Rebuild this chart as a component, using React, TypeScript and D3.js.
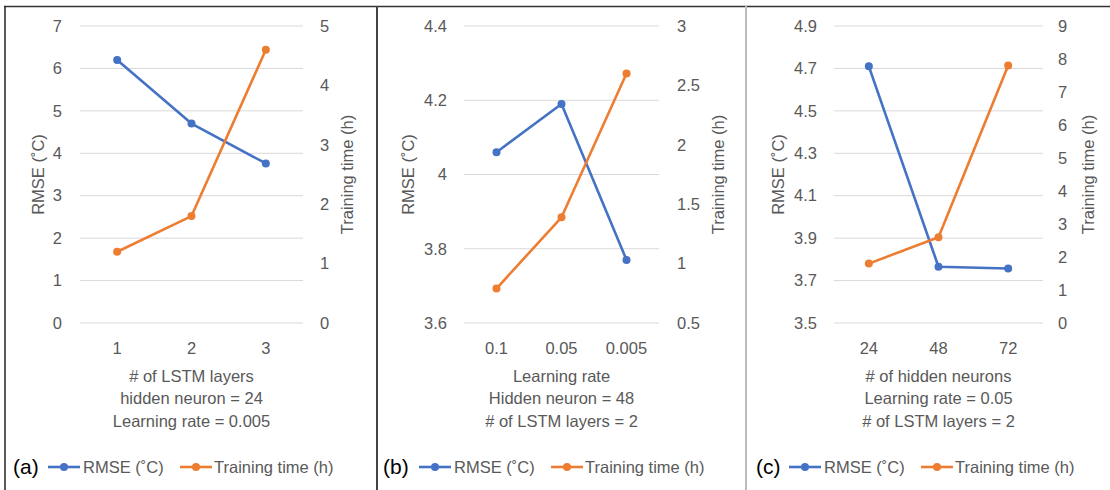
import React from 'react';
import * as d3 from 'd3';

// shared series
const seriesNames = ['RMSE (˚C)', 'Training time (h)'];

// (a) LSTM layers
const layersCats = ['1', '2', '3'];
const layersRmse = [6.2, 4.7, 3.76];
const layersTime = [1.2, 1.8, 4.6];
const layersLeftTicks = [0, 1, 2, 3, 4, 5, 6, 7];
const layersRightTicks = [0, 1, 2, 3, 4, 5];
const layersTitle = ['# of LSTM layers', 'hidden neuron = 24', 'Learning rate = 0.005'];

// (b) learning rate
const rateCats = ['0.1', '0.05', '0.005'];
const rateRmse = [4.06, 4.19, 3.77];
const rateTime = [0.79, 1.39, 2.6];
const rateLeftTicks = [3.6, 3.8, 4.0, 4.2, 4.4];
const rateRightTicks = [0.5, 1, 1.5, 2, 2.5, 3];
const rateTitle = ['Learning rate', 'Hidden neuron = 48', '# of LSTM layers = 2'];

// (c) hidden neurons
const neuronCats = ['24', '48', '72'];
const neuronRmse = [4.71, 3.765, 3.757];
const neuronTime = [1.8, 2.6, 7.8];
const neuronLeftTicks = [3.5, 3.7, 3.9, 4.1, 4.3, 4.5, 4.7, 4.9];
const neuronRightTicks = [0, 1, 2, 3, 4, 5, 6, 7, 8, 9];
const neuronTitle = ['# of hidden neurons', 'Learning rate = 0.05', '# of LSTM layers = 2'];

const BLUE = '#4472C4';
const ORANGE = '#ED7D31';
const GRID = '#d9d9d9';
const TXT = '#595959';
const FONT = '"Liberation Sans", Arial, sans-serif';

const panels = [
  {
    label: '(a)', cats: layersCats, rmse: layersRmse, time: layersTime,
    leftTicks: layersLeftTicks, rightTicks: layersRightTicks, title: layersTitle,
    x0: 80, x1: 303, leftLab: 62, rightLab: 320, leftTitle: 38, rightTitle: 347,
    fmtL: (d: number) => d3.format('d')(d), fmtR: (d: number) => String(d),
    tag: 13, leg: 48,
  },
  {
    label: '(b)', cats: rateCats, rmse: rateRmse, time: rateTime,
    leftTicks: rateLeftTicks, rightTicks: rateRightTicks, title: rateTitle,
    x0: 464, x1: 659, leftLab: 447, rightLab: 677, leftTitle: 408, rightTitle: 718,
    fmtL: (d: number) => String(+d.toFixed(1)), fmtR: (d: number) => String(d),
    tag: 383, leg: 419,
  },
  {
    label: '(c)', cats: neuronCats, rmse: neuronRmse, time: neuronTime,
    leftTicks: neuronLeftTicks, rightTicks: neuronRightTicks, title: neuronTitle,
    x0: 834, x1: 1043, leftLab: 817, rightLab: 1058, leftTitle: 778, rightTitle: 1088,
    fmtL: (d: number) => d.toFixed(1), fmtR: (d: number) => String(d),
    tag: 756, leg: 789,
  },
];

const TOP = 26;
const BOTTOM = 323;

function Panel({ p }: { p: (typeof panels)[number] }) {
  const x = d3.scaleBand().domain(p.cats).range([p.x0, p.x1]);
  const yL = d3.scaleLinear()
    .domain([p.leftTicks[0], p.leftTicks[p.leftTicks.length - 1]])
    .range([BOTTOM, TOP]);
  const yR = d3.scaleLinear()
    .domain([p.rightTicks[0], p.rightTicks[p.rightTicks.length - 1]])
    .range([BOTTOM, TOP]);
  const cx = (c: string) => (x(c) || 0) + x.bandwidth() / 2;
  const lineL = d3.line<number>().x((_, i) => cx(p.cats[i])).y((d) => yL(d));
  const lineR = d3.line<number>().x((_, i) => cx(p.cats[i])).y((d) => yR(d));
  const midY = (TOP + BOTTOM) / 2;

  return (
    <g fontFamily={FONT}>
      {p.leftTicks.map((t) => (
        <g key={'l' + t}>
          <line x1={p.x0} x2={p.x1} y1={yL(t)} y2={yL(t)} stroke={GRID} strokeWidth={1} />
          <text x={p.leftLab} y={yL(t)} dy="0.35em" textAnchor="end" fontSize={16.5} fill={TXT}>
            {p.fmtL(t)}
          </text>
        </g>
      ))}
      {p.rightTicks.map((t) => (
        <text key={'r' + t} x={p.rightLab} y={yR(t)} dy="0.35em" fontSize={16.5} fill={TXT}>
          {p.fmtR(t)}
        </text>
      ))}
      <text transform={`translate(${p.leftTitle},${midY}) rotate(-90)`} textAnchor="middle"
        dy="0.35em" fontSize={16.5} fill={TXT}>{seriesNames[0]}</text>
      <text transform={`translate(${p.rightTitle},${midY}) rotate(-90)`} textAnchor="middle"
        dy="0.35em" fontSize={16.5} fill={TXT}>{seriesNames[1]}</text>
      {p.cats.map((c) => (
        <text key={c} x={cx(c)} y={348} dy="0.35em" textAnchor="middle" fontSize={16.5} fill={TXT}>{c}</text>
      ))}
      {p.title.map((t, i) => (
        <text key={t} x={(p.x0 + p.x1) / 2} y={376 + i * 22.5} dy="0.35em" textAnchor="middle"
          fontSize={16.5} fill={TXT}>{t}</text>
      ))}
      <path d={lineL(p.rmse) || ''} fill="none" stroke={BLUE} strokeWidth={2.6} strokeLinejoin="round" />
      {p.rmse.map((v, i) => (
        <circle key={'b' + i} cx={cx(p.cats[i])} cy={yL(v)} r={4} fill={BLUE} />
      ))}
      <path d={lineR(p.time) || ''} fill="none" stroke={ORANGE} strokeWidth={2.6} strokeLinejoin="round" />
      {p.time.map((v, i) => (
        <circle key={'o' + i} cx={cx(p.cats[i])} cy={yR(v)} r={4} fill={ORANGE} />
      ))}
      {/* legend */}
      <text x={p.tag} y={467} dy="0.35em" fontSize={21} fill="#000">{p.label}</text>
      <line x1={p.leg} x2={p.leg + 32} y1={467} y2={467} stroke={BLUE} strokeWidth={2.6} />
      <circle cx={p.leg + 16} cy={467} r={4} fill={BLUE} />
      <text x={p.leg + 35} y={467} dy="0.35em" fontSize={16.5} fill={TXT}>{seriesNames[0]}</text>
      <line x1={p.leg + 132} x2={p.leg + 164} y1={467} y2={467} stroke={ORANGE} strokeWidth={2.6} />
      <circle cx={p.leg + 148} cy={467} r={4} fill={ORANGE} />
      <text x={p.leg + 166} y={467} dy="0.35em" fontSize={16.5} fill={TXT}>{seriesNames[1]}</text>
    </g>
  );
}

export default function App() {
  return (
    <svg width={1110} height={490} style={{ position: 'absolute', left: 0, top: 0, background: '#fff' }}>
      <rect width={1110} height={490} fill="#fff" />
      <line x1={4} x2={1110} y1={6.5} y2={6.5} stroke="#333" strokeWidth={1.5} />
      <line x1={5} x2={5} y1={6} y2={490} stroke="#222" strokeWidth={1.5} />
      <line x1={377} x2={377} y1={6} y2={490} stroke="#444" strokeWidth={2} />
      <line x1={746} x2={746} y1={6} y2={490} stroke="#bbb" strokeWidth={2} />
      {panels.map((p) => (
        <Panel key={p.label} p={p} />
      ))}
    </svg>
  );
}
